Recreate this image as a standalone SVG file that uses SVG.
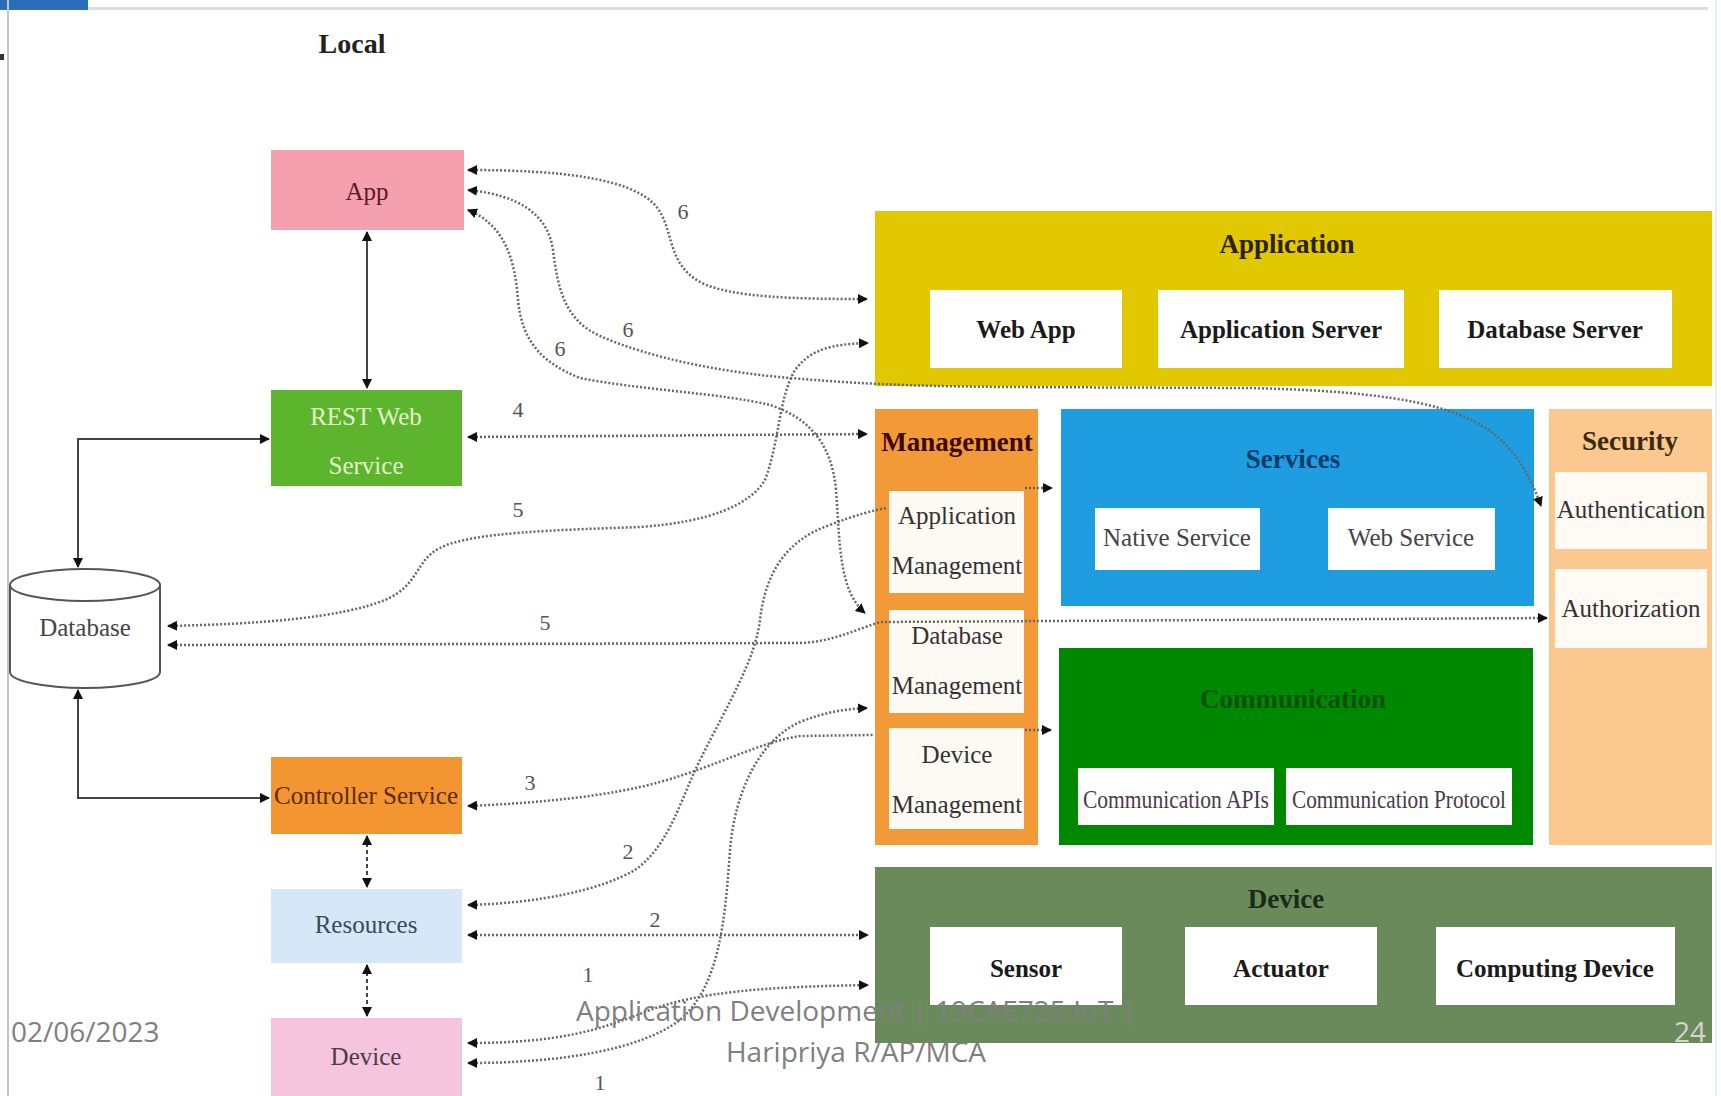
<svg xmlns="http://www.w3.org/2000/svg" width="1721" height="1096" viewBox="0 0 1721 1096">
<defs>
<marker id="arr" viewBox="0 0 10 10" refX="9" refY="5" markerWidth="10" markerHeight="10" markerUnits="userSpaceOnUse" orient="auto-start-reverse"><path d="M0,0 L10,5 L0,10 z" fill="#111"/></marker>
</defs>
<style>
.serif{font-family:"Liberation Serif","Times New Roman",serif}
.t{font-family:"Liberation Serif","Times New Roman",serif;font-size:25px;text-anchor:middle}
.b{font-family:"Liberation Serif","Times New Roman",serif;font-size:25px;font-weight:bold;text-anchor:middle;fill:#1a1a1a}
.h{font-family:"Liberation Serif","Times New Roman",serif;font-size:27px;font-weight:bold;text-anchor:middle}
.lbl{font-family:"Liberation Serif","Times New Roman",serif;font-size:22px;text-anchor:middle;fill:#555}
.dot{fill:none;stroke:#666;stroke-width:2.5;stroke-dasharray:2 2}
.sol{fill:none;stroke:#444;stroke-width:2}
.ft{font-family:"Open Sans","Noto Sans",sans-serif;font-size:28px;fill:#7f7f7f}
.wb{fill:#ffffff}
</style>
<rect x="0" y="0" width="1721" height="1096" fill="#ffffff"/>
<!-- frame -->
<rect x="88" y="7" width="1620" height="3" fill="#dcdcdc"/>
<rect x="0" y="0" width="88" height="10" fill="#2a6ebb"/>
<rect x="7" y="0" width="2" height="1096" fill="#c4c4c4"/>
<rect x="1715" y="0" width="2" height="1096" fill="#e8eef4"/>
<rect x="0" y="54" width="4" height="6" fill="#333"/>

<text class="serif" x="352" y="53" font-size="28" font-weight="bold" text-anchor="middle" fill="#222">Local</text>

<!-- Local nodes -->
<g id="app"><rect x="271" y="150" width="193" height="80" fill="#f4a0ae"/><text class="t" x="367" y="200" fill="#5a1a2a">App</text></g>
<g id="rest"><rect x="271" y="390" width="191" height="96" fill="#5cb52c"/><text class="t" x="366" y="425" fill="#e2f5cc">REST Web</text><text class="t" x="366" y="474" fill="#e2f5cc">Service</text></g>
<g id="database"><path d="M10,585 L10,672 A75,16 0 0 0 160,672 L160,585 A75,16 0 0 0 10,585 Z" fill="#fff" stroke="#555" stroke-width="2"/><path d="M10,585 A75,16 0 0 0 160,585" fill="none" stroke="#555" stroke-width="2"/><text class="t" x="85" y="636" fill="#444">Database</text></g>
<g id="controller"><rect x="271" y="757" width="191" height="77" fill="#f39530"/><text class="t" x="366" y="804" fill="#5a2a00">Controller Service</text></g>
<g id="resources"><rect x="271" y="889" width="191" height="74" fill="#d6e8f8"/><text class="t" x="366" y="933" fill="#3a4a5a">Resources</text></g>
<g id="device-local"><rect x="271" y="1018" width="191" height="78" fill="#f5c5dd"/><text class="t" x="366" y="1065" fill="#4a3a4a">Device</text></g>

<!-- Application layer -->
<g id="application"><rect x="875" y="211" width="837" height="175" fill="#e2c800"/><text class="h" x="1287" y="253" fill="#2a2200">Application</text>
<rect class="wb" x="930" y="290" width="192" height="78"/><text class="b" x="1026" y="338">Web App</text>
<rect class="wb" x="1158" y="290" width="246" height="78"/><text class="b" x="1281" y="338">Application Server</text>
<rect class="wb" x="1439" y="290" width="233" height="78"/><text class="b" x="1555" y="338">Database Server</text></g>

<g id="management"><rect x="875" y="409" width="163" height="436" fill="#f39a38"/><text class="h" x="957" y="451" fill="#3a0a00">Management</text>
<rect x="889" y="491" width="135" height="102" fill="#fdfaf4"/><text class="t" x="957" y="524" fill="#333">Application</text><text class="t" x="957" y="574" fill="#333">Management</text>
<rect x="889" y="610" width="135" height="103" fill="#fdfaf4"/><text class="t" x="957" y="644" fill="#333">Database</text><text class="t" x="957" y="694" fill="#333">Management</text>
<rect x="889" y="728" width="135" height="101" fill="#fdfaf4"/><text class="t" x="957" y="763" fill="#333">Device</text><text class="t" x="957" y="813" fill="#333">Management</text></g>

<g id="services"><rect x="1061" y="409" width="473" height="197" fill="#1e9de0"/><text class="h" x="1293" y="468" fill="#0a3a6a">Services</text>
<rect class="wb" x="1095" y="508" width="165" height="62"/><text class="t" x="1177" y="546" fill="#444">Native Service</text>
<rect class="wb" x="1328" y="508" width="167" height="62"/><text class="t" x="1411" y="546" fill="#444">Web Service</text></g>

<g id="communication"><rect x="1059" y="648" width="474" height="197" fill="#008800"/><text class="h" x="1293" y="708" fill="#0a520a">Communication</text>
<rect class="wb" x="1078" y="768" width="196" height="57"/><text class="t" x="1176" y="808" font-size="23" fill="#4a3a4a" textLength="186" lengthAdjust="spacingAndGlyphs">Communication APIs</text>
<rect class="wb" x="1286" y="768" width="226" height="57"/><text class="t" x="1399" y="808" font-size="23" fill="#4a3a4a" textLength="214" lengthAdjust="spacingAndGlyphs">Communication Protocol</text></g>

<g id="security"><rect x="1549" y="409" width="163" height="436" fill="#fbc890"/><text class="h" x="1630" y="450" fill="#3a2a10">Security</text>
<rect x="1555" y="472" width="152" height="77" fill="#fffaf4"/><text class="t" x="1631" y="518" fill="#333">Authentication</text>
<rect x="1555" y="569" width="152" height="79" fill="#fffaf4"/><text class="t" x="1631" y="617" fill="#333">Authorization</text></g>

<g id="device"><rect x="875" y="867" width="837" height="176" fill="#6b8a5b"/><text class="h" x="1286" y="908" fill="#1a2a18">Device</text>
<rect class="wb" x="930" y="927" width="192" height="78"/><text class="b" x="1026" y="977">Sensor</text>
<rect class="wb" x="1185" y="927" width="192" height="78"/><text class="b" x="1281" y="977">Actuator</text>
<rect class="wb" x="1436" y="927" width="239" height="78"/><text class="b" x="1555" y="977">Computing Device</text></g>

<!-- connectors -->
<g id="connectors">
<path class="sol" d="M367,232 L367,388" marker-start="url(#arr)" marker-end="url(#arr)"/>
<path class="sol" d="M78,567 L78,439 L269,439" marker-start="url(#arr)" marker-end="url(#arr)"/>
<path class="sol" d="M78,690 L78,798 L269,798" marker-start="url(#arr)" marker-end="url(#arr)"/>
<path class="sol" d="M367,836 L367,887" stroke-dasharray="4 3" stroke-width="3" marker-start="url(#arr)" marker-end="url(#arr)"/>
<path class="sol" d="M367,965 L367,1016" stroke-dasharray="4 3" stroke-width="3" marker-start="url(#arr)" marker-end="url(#arr)"/>

<path class="dot" d="M468,170 C560,170 630,178 655,205 C675,228 665,262 700,282 C730,298 800,299 867,299" marker-start="url(#arr)" marker-end="url(#arr)"/>
<path class="dot" d="M468,190 C520,195 548,215 553,250 C558,290 565,320 600,336 C650,358 720,372 790,378 C850,383 900,386 1000,387 L1250,388 C1330,390 1410,395 1460,415 C1510,435 1528,470 1541,506" marker-start="url(#arr)" marker-end="url(#arr)"/>
<path class="dot" d="M468,210 C505,225 515,260 518,300 C522,340 540,362 580,378 C640,390 720,393 770,405 C810,418 832,445 836,490 C840,540 838,590 865,613" marker-start="url(#arr)" marker-end="url(#arr)"/>
<path class="dot" d="M468,437 L867,434" marker-start="url(#arr)" marker-end="url(#arr)"/>
<path class="dot" d="M168,626 C260,624 340,618 385,600 C420,585 415,560 440,548 C470,532 560,530 640,527 C710,522 750,505 765,480 C780,440 778,400 795,370 C810,350 830,344 868,343" marker-start="url(#arr)" marker-end="url(#arr)"/>
<path class="dot" d="M168,645 L800,643 C830,642 850,632 880,622 L1547,618" marker-start="url(#arr)" marker-end="url(#arr)"/>
<path class="dot" d="M468,806 C540,803 610,796 660,782 C720,765 760,742 800,736 L873,735" marker-start="url(#arr)"/>
<path class="dot" d="M468,905 C540,903 600,890 635,870 C670,845 680,800 700,760 C730,700 755,660 760,620 C765,575 785,540 830,525 C855,515 875,510 887,508" marker-start="url(#arr)"/>
<path class="dot" d="M468,935 L868,935" marker-start="url(#arr)" marker-end="url(#arr)"/>
<path class="dot" d="M468,1063 C560,1063 640,1050 680,1020 C720,985 725,920 730,850 C735,790 760,740 800,722 C825,712 845,709 867,708" marker-start="url(#arr)" marker-end="url(#arr)"/>
<path class="dot" d="M468,1043 C560,1043 600,1030 650,1010 C700,992 760,987 868,985" marker-start="url(#arr)" marker-end="url(#arr)"/>
<path class="dot" d="M1025,488 L1052,488" marker-end="url(#arr)"/>
<path class="dot" d="M1025,730 L1051,730" marker-end="url(#arr)"/>

<text class="lbl" x="683" y="219">6</text>
<text class="lbl" x="628" y="337">6</text>
<text class="lbl" x="560" y="356">6</text>
<text class="lbl" x="518" y="417">4</text>
<text class="lbl" x="518" y="517">5</text>
<text class="lbl" x="545" y="630">5</text>
<text class="lbl" x="530" y="790">3</text>
<text class="lbl" x="628" y="859">2</text>
<text class="lbl" x="655" y="927">2</text>
<text class="lbl" x="588" y="982">1</text>
<text class="lbl" x="600" y="1090">1</text>
</g>

<!-- footer -->
<text class="ft" x="11" y="1042">02/06/2023</text>
<text class="ft" x="856" y="1021" text-anchor="middle">Application Development | 19CAE725:IoT |</text>
<text class="ft" x="856" y="1062" text-anchor="middle">Haripriya R/AP/MCA</text>
<text class="ft" x="1690" y="1042" text-anchor="middle" style="fill:#d4d4d4">24</text>
</svg>
